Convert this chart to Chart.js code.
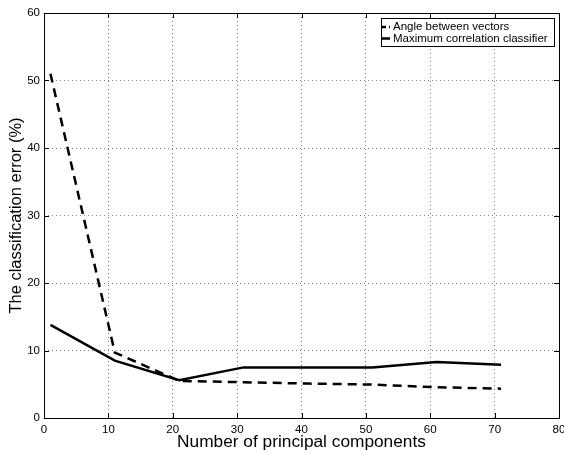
<!DOCTYPE html>
<html>
<head>
<meta charset="utf-8">
<script src="https://cdn.jsdelivr.net/npm/chart.js@4"></script>
<style>
  html, body { margin: 0; padding: 0; background: #fff; }
  #wrap { width: 564px; height: 453px; }
</style>
</head>
<body>
<div id="wrap"><canvas id="chart" width="564" height="453"></canvas></div>
<script>
// data
const components = [1, 11, 21, 31, 41, 51, 61, 71];
const angleError = [51, 9.7, 5.5, 5.3, 5.1, 4.95, 4.55, 4.35];
const maxCorrError = [13.8, 8.5, 5.6, 7.5, 7.5, 7.5, 8.3, 7.9];
const xTicks = [0, 10, 20, 30, 40, 50, 60, 70, 80];
const yTicks = [0, 10, 20, 30, 40, 50, 60];
const dashes = [[9, 6], []];

const FONT = 'Liberation Sans, Arial, Helvetica, sans-serif';

// matlab-like box with inward ticks + legend box
const frame = {
  id: 'frame',
  afterDraw(chart) {
    const { ctx, chartArea: a, scales } = chart;
    ctx.save();
    ctx.strokeStyle = '#000';
    ctx.lineWidth = 1;
    ctx.setLineDash([]);
    ctx.strokeRect(a.left + 0.5, a.top + 0.5, a.right - a.left, a.bottom - a.top);
    ctx.beginPath();
    xTicks.forEach(v => {
      const x = Math.round(scales.x.getPixelForValue(v)) + 0.5;
      ctx.moveTo(x, a.bottom); ctx.lineTo(x, a.bottom - 5);
      ctx.moveTo(x, a.top); ctx.lineTo(x, a.top + 5);
    });
    yTicks.forEach(v => {
      const y = Math.round(scales.y.getPixelForValue(v)) + 0.5;
      ctx.moveTo(a.left, y); ctx.lineTo(a.left + 5, y);
      ctx.moveTo(a.right, y); ctx.lineTo(a.right - 5, y);
    });
    ctx.stroke();

    // legend
    const bx = 381, by = 18, bw = 173, bh = 28;
    ctx.fillStyle = '#fff';
    ctx.fillRect(bx, by, bw, bh);
    ctx.strokeRect(bx + 0.5, by + 0.5, bw, bh);
    ctx.font = '11.5px ' + FONT;
    ctx.textBaseline = 'middle';
    chart.data.datasets.forEach((ds, i) => {
      const y = by + 9 + i * 11.5;
      ctx.beginPath();
      ctx.lineWidth = 2.5;
      ctx.setLineDash(i === 0 ? [4, 3] : []);
      ctx.moveTo(bx + 1, y);
      ctx.lineTo(bx + 9, y);
      ctx.stroke();
      ctx.setLineDash([]);
      ctx.fillStyle = '#000';
      ctx.fillText(ds.label, bx + 12, y);
    });
    ctx.restore();
  }
};

new Chart(document.getElementById('chart'), {
  type: 'line',
  data: {
    datasets: [
      {
        label: 'Angle between vectors',
        data: components.map((c, i) => ({ x: c, y: angleError[i] })),
        borderColor: '#000',
        borderWidth: 2.5,
        borderDash: dashes[0],
        pointRadius: 0,
        tension: 0,
      },
      {
        label: 'Maximum correlation classifier',
        data: components.map((c, i) => ({ x: c, y: maxCorrError[i] })),
        borderColor: '#000',
        borderWidth: 2.5,
        borderDash: dashes[1],
        pointRadius: 0,
        tension: 0,
      }
    ]
  },
  options: {
    responsive: false,
    animation: false,
    layout: { padding: { top: 13, right: 5, left: 0, bottom: 0 } },
    plugins: { legend: { display: false }, tooltip: { enabled: false } },
    scales: {
      x: {
        type: 'linear', min: 0, max: 80,
        afterBuildTicks: s => { s.ticks = xTicks.map(v => ({ value: v })); },
        grid: { color: 'rgba(0,0,0,0.5)', drawTicks: false },
        border: { display: false, dash: [1, 3] },
        ticks: { color: '#000', padding: 5, font: { family: FONT, size: 11.5 } },
        title: { display: true, text: 'Number of principal components', color: '#000',
                 font: { family: FONT, size: 17.3 }, padding: { top: 0, bottom: 0 } },
        afterFit: s => { s.height = 35; s.paddingLeft = 0; s.paddingRight = 0; }
      },
      y: {
        type: 'linear', min: 0, max: 60,
        afterBuildTicks: s => { s.ticks = yTicks.map(v => ({ value: v })); },
        grid: { color: 'rgba(0,0,0,0.5)', drawTicks: false },
        border: { display: false, dash: [1, 3] },
        ticks: { color: '#000', padding: 4, font: { family: FONT, size: 11.5 } },
        title: { display: true, text: 'The classification error (%)', color: '#000',
                 font: { family: FONT, size: 16.5 }, padding: { top: 7, bottom: 0 } },
        afterFit: s => { s.width = 44; }
      }
    }
  },
  plugins: [frame]
});
</script>
</body>
</html>
